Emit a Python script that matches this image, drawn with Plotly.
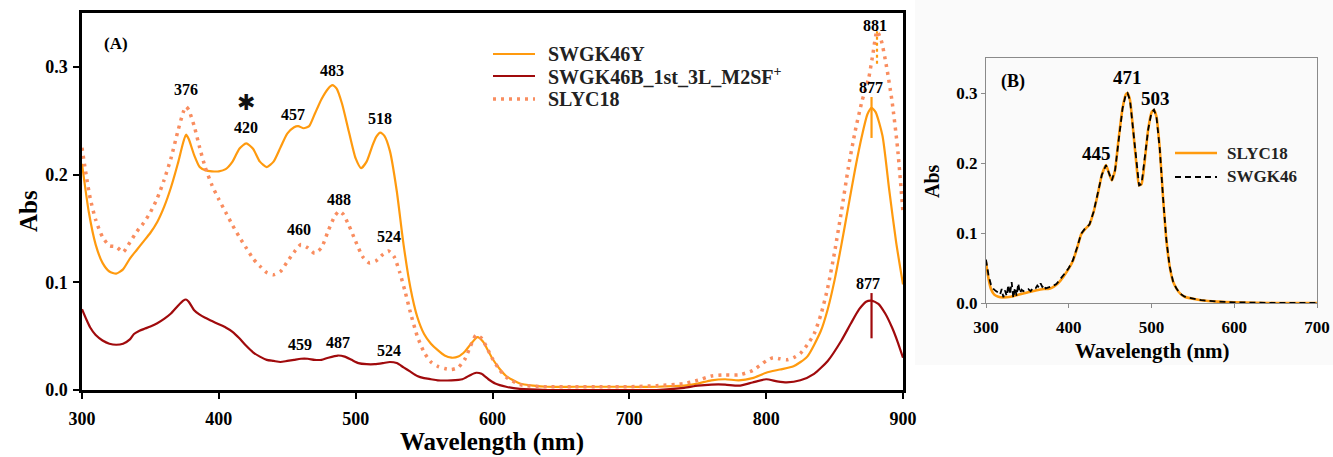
import numpy as np
import plotly.graph_objects as go

# ---------------- Panel (A): absorption spectra 300-900 nm ----------------
wl_y = [300, 305, 310, 315, 320, 325, 330, 335, 340, 345, 350, 355, 360, 365, 370, 374, 376, 378,
        382, 386, 390, 395, 400, 405, 410, 415, 420, 425, 430, 435, 440, 445, 450, 455, 458, 462,
        466, 470, 475, 480, 483, 486, 490, 495, 500, 504, 508, 512, 515, 518, 521, 525, 530, 535,
        540, 545, 550, 555, 560, 565, 570, 575, 580, 585, 589, 593, 597, 600, 605, 610, 620, 630,
        640, 660, 680, 700, 720, 740, 750, 760, 770, 780, 790, 800, 810, 820, 830, 840, 845, 850,
        855, 860, 865, 870, 874, 877, 880, 885, 890, 895, 900]
abs_swgk46y = [0.210, 0.165, 0.135, 0.118, 0.110, 0.108, 0.112, 0.122, 0.130, 0.138, 0.146, 0.156,
               0.170, 0.188, 0.210, 0.230, 0.237, 0.233, 0.218, 0.207, 0.204, 0.203, 0.203, 0.205,
               0.212, 0.224, 0.229, 0.224, 0.212, 0.207, 0.212, 0.225, 0.238, 0.244, 0.245, 0.243,
               0.245, 0.256, 0.270, 0.280, 0.283, 0.280, 0.266, 0.240, 0.215, 0.206, 0.212, 0.226,
               0.235, 0.239, 0.236, 0.222, 0.185, 0.135, 0.095, 0.068, 0.052, 0.043, 0.037, 0.032,
               0.030, 0.031, 0.036, 0.044, 0.049, 0.045, 0.036, 0.029, 0.020, 0.013, 0.006, 0.004,
               0.003, 0.003, 0.003, 0.003, 0.003, 0.004, 0.006, 0.009, 0.010, 0.009, 0.011, 0.016,
               0.019, 0.022, 0.031, 0.055, 0.075, 0.102, 0.135, 0.170, 0.205, 0.236, 0.256, 0.262,
               0.258, 0.236, 0.185, 0.137, 0.098]

wl_b = [300, 303, 306, 310, 315, 320, 325, 330, 335, 338, 342, 346, 350, 355, 360, 365, 370, 374,
        376, 378, 382, 386, 390, 395, 400, 405, 410, 415, 420, 425, 430, 435, 440, 445, 450, 455,
        460, 465, 470, 475, 480, 487, 492, 497, 502, 508, 514, 520, 525, 530, 535, 540, 545, 550,
        555, 560, 570, 578, 584, 588, 592, 597, 602, 610, 620, 640, 660, 700, 720, 740, 750, 760,
        770, 780, 790, 800, 808, 815, 825, 835, 845, 855, 862, 868, 873, 877, 882, 887, 892, 896,
        900]
abs_swgk46b = [0.075, 0.066, 0.058, 0.051, 0.046, 0.043, 0.042, 0.043, 0.047, 0.052, 0.055, 0.057,
               0.059, 0.062, 0.066, 0.071, 0.078, 0.083, 0.084, 0.082, 0.074, 0.070, 0.067, 0.064,
               0.061, 0.058, 0.054, 0.048, 0.041, 0.035, 0.031, 0.028, 0.027, 0.026, 0.027, 0.028,
               0.029, 0.029, 0.028, 0.028, 0.030, 0.032, 0.031, 0.028, 0.025, 0.024, 0.024, 0.025,
               0.026, 0.025, 0.021, 0.017, 0.013, 0.011, 0.010, 0.009, 0.009, 0.010, 0.014, 0.016,
               0.015, 0.010, 0.006, 0.003, 0.001, 0.000, 0.000, 0.000, 0.000, 0.002, 0.004, 0.005,
               0.005, 0.004, 0.007, 0.010, 0.008, 0.007, 0.009, 0.015, 0.027, 0.046, 0.062, 0.075,
               0.082, 0.083, 0.080, 0.071, 0.058, 0.045, 0.030]

wl_s = [300, 303, 306, 310, 315, 320, 325, 330, 335, 340, 345, 350, 355, 360, 365, 370, 374, 376,
        378, 382, 386, 390, 395, 400, 405, 410, 415, 420, 425, 430, 435, 440, 445, 450, 455, 460,
        465, 470, 475, 480, 485, 488, 491, 495, 500, 505, 510, 515, 520, 524, 528, 532, 536, 540,
        545, 550, 555, 560, 565, 570, 575, 580, 584, 588, 592, 596, 600, 605, 610, 620, 640, 660,
        680, 700, 720, 740, 750, 760, 770, 780, 790, 800, 805, 810, 815, 820, 825, 830, 835, 840,
        845, 850, 855, 860, 865, 870, 875, 878, 881, 884, 888, 892, 896, 900]
abs_slyc18 = [0.225, 0.200, 0.178, 0.158, 0.142, 0.134, 0.133, 0.128, 0.137, 0.147, 0.155, 0.165,
              0.178, 0.195, 0.215, 0.240, 0.258, 0.263, 0.260, 0.245, 0.225, 0.207, 0.190, 0.177,
              0.165, 0.153, 0.142, 0.132, 0.122, 0.115, 0.109, 0.107, 0.110, 0.119, 0.128, 0.135,
              0.132, 0.127, 0.132, 0.148, 0.162, 0.166, 0.163, 0.153, 0.138, 0.124, 0.118, 0.120,
              0.126, 0.129, 0.124, 0.110, 0.092, 0.072, 0.050, 0.035, 0.026, 0.022, 0.020, 0.019,
              0.021, 0.029, 0.041, 0.051, 0.048, 0.039, 0.029, 0.019, 0.012, 0.005, 0.003, 0.003,
              0.003, 0.003, 0.004, 0.006, 0.009, 0.013, 0.014, 0.014, 0.018, 0.027, 0.030, 0.029,
              0.028, 0.030, 0.034, 0.042, 0.052, 0.070, 0.095, 0.128, 0.166, 0.206, 0.240, 0.268,
              0.290, 0.312, 0.333, 0.325, 0.300, 0.268, 0.225, 0.165]

# Peak labels: (series, wavelength, text, vertical px offset above curve, horizontal px offset)
peaks_a = [
    ("s", 376, "376", 17, 0), ("y", 420, "420", 16, 0), ("y", 457, "457", 12, -4),
    ("y", 483, "483", 15, 0), ("y", 518, "518", 14, 0), ("s", 488, "488", 12, 0),
    ("s", 460, "460", 15, -2), ("s", 524, "524", 15, 0), ("b", 459, "459", 14, 0),
    ("b", 487, "487", 13, 0), ("b", 524, "524", 12, 0), ("s", 881, "881", 6, -2),
    ("y", 877, "877", 20, -1), ("b", 877, "877", 17, -4),
]
# Vertical peak ticks: (series, wavelength, below, above)
peak_ticks = [("y", 877, 0.028, 0.010), ("b", 877, 0.035, 0.007), ("s", 881, 0.030, 0.0)]

# ---------------- Panel (B): carotenoid spectra 300-700 nm ----------------
wl_c = [300, 303, 306, 310, 315, 320, 330, 340, 350, 360, 370, 375, 380, 385, 390, 395, 400, 405,
        410, 415, 420, 425, 430, 435, 440, 445, 449, 452, 456, 460, 465, 469, 471, 474, 478, 482,
        485, 488, 492, 496, 500, 503, 506, 510, 514, 518, 522, 526, 530, 535, 540, 550, 560, 580,
        600, 650, 700]
abs_c_slyc18 = [0.058, 0.035, 0.020, 0.012, 0.009, 0.008, 0.009, 0.012, 0.015, 0.018, 0.020, 0.020,
                0.022, 0.026, 0.032, 0.040, 0.049, 0.060, 0.078, 0.098, 0.106, 0.112, 0.130, 0.155,
                0.183, 0.197, 0.184, 0.175, 0.190, 0.232, 0.278, 0.298, 0.300, 0.290, 0.245, 0.195,
                0.168, 0.170, 0.205, 0.248, 0.272, 0.276, 0.266, 0.220, 0.150, 0.090, 0.052, 0.031,
                0.021, 0.013, 0.009, 0.006, 0.004, 0.002, 0.001, 0.000, 0.000]

wl_k = [300, 303, 306, 309, 312, 315, 317, 319, 321, 323, 325, 327, 329, 331, 333, 335, 337, 339,
        341, 343, 345, 348, 351, 354, 357, 360, 362, 364, 366, 368, 370, 372, 375, 380, 385, 390,
        395, 400, 405, 410, 415, 420, 425, 430, 435, 440, 445, 449, 452, 456, 460, 465, 469, 471,
        474, 478, 482, 485, 488, 492, 496, 500, 503, 506, 510, 514, 518, 522, 526, 530, 535, 540,
        550, 560, 580, 600, 650, 700]
abs_k_swgk46 = [0.062, 0.040, 0.026, 0.020, 0.017, 0.015, 0.012, 0.020, 0.008, 0.018, 0.010, 0.026,
                0.012, 0.030, 0.007, 0.022, 0.010, 0.028, 0.014, 0.019, 0.017, 0.018, 0.020, 0.017,
                0.022, 0.021, 0.025, 0.022, 0.028, 0.023, 0.026, 0.021, 0.022, 0.024, 0.027, 0.034,
                0.042, 0.050, 0.061, 0.079, 0.099, 0.107, 0.112, 0.130, 0.155, 0.183, 0.197, 0.184,
                0.175, 0.190, 0.232, 0.278, 0.298, 0.300, 0.290, 0.245, 0.195, 0.168, 0.170, 0.205,
                0.248, 0.272, 0.276, 0.266, 0.220, 0.150, 0.090, 0.052, 0.031, 0.021, 0.013, 0.009,
                0.006, 0.004, 0.002, 0.001, 0.000, 0.000]

peaks_c = [(445, "445", 12, -9), (471, "471", 15, 0), (503, "503", 11, 2)]

# ---------------- styling ----------------
W, H = 1333, 457
SERIF = "Liberation Serif"
ORANGE = "#FF9A0E"
DARKRED = "#A00A0C"
SALMON = "#F98D5F"
BLACK = "#000000"
DOT = "3px,5px"

series_a = {
    "y": (wl_y, abs_swgk46y, ORANGE),
    "b": (wl_b, abs_swgk46b, DARKRED),
    "s": (wl_s, abs_slyc18, SALMON),
}

line_a = {
    "y": dict(color=ORANGE, width=2.2),
    "b": dict(color=DARKRED, width=2.2),
    "s": dict(color=SALMON, width=3.5, dash=DOT),
}

fig = go.Figure()

fig.add_trace(go.Scatter(x=wl_y, y=abs_swgk46y, mode="lines", name="SWGK46Y",
                         line=dict(**line_a["y"], shape="spline", smoothing=0.6),
                         xaxis="x", yaxis="y"))
fig.add_trace(go.Scatter(x=wl_b, y=abs_swgk46b, mode="lines", name="SWGK46B_1st_3L_M2SF<sup>+</sup>",
                         line=dict(**line_a["b"], shape="spline", smoothing=0.6),
                         xaxis="x", yaxis="y"))
fig.add_trace(go.Scatter(x=wl_s, y=abs_slyc18, mode="lines", name="SLYC18",
                         line=dict(**line_a["s"], shape="spline", smoothing=0.6),
                         xaxis="x", yaxis="y"))

line_c = dict(color=ORANGE, width=2.6)
line_k = dict(color=BLACK, width=1.8, dash="6px,4px")
fig.add_trace(go.Scatter(x=wl_c, y=abs_c_slyc18, mode="lines", name="SLYC18",
                         line=dict(**line_c, shape="spline", smoothing=0.5),
                         xaxis="x2", yaxis="y2"))
fig.add_trace(go.Scatter(x=wl_k, y=abs_k_swgk46, mode="lines", name="SWGK46",
                         line=line_k, xaxis="x2", yaxis="y2"))

annotations = []
num_font = dict(family=SERIF, size=16, color="black", weight="bold")
for key, wl, text, dy, dx in peaks_a:
    xs, ys, _ = series_a[key]
    yv = float(np.interp(wl, xs, ys))
    annotations.append(dict(x=wl, y=yv, xref="x", yref="y", text=text, showarrow=False,
                            xanchor="center", yanchor="middle", yshift=dy, xshift=dx, font=num_font))

# asterisk above the 420 nm band
yv420 = float(np.interp(420, wl_y, abs_swgk46y))
annotations.append(dict(x=420, y=yv420, xref="x", yref="y", text="✱", showarrow=False,
                        xanchor="center", yanchor="middle", yshift=41,
                        font=dict(family="DejaVu Sans", size=22, color="#111")))
annotations.append(dict(x=325, y=0.322, xref="x", yref="y", text="(A)", showarrow=False,
                        xanchor="center", yanchor="middle",
                        font=dict(family=SERIF, size=17, color="black", weight="bold")))

for wl, text, dy, dx in peaks_c:
    yv = float(np.interp(wl, wl_c, abs_c_slyc18))
    annotations.append(dict(x=wl, y=yv, xref="x2", yref="y2", text=text, showarrow=False,
                            xanchor="center", yanchor="middle", yshift=dy, xshift=dx,
                            font=dict(family=SERIF, size=19, color="black", weight="bold")))
annotations.append(dict(x=333, y=0.316, xref="x2", yref="y2", text="(B)", showarrow=False,
                        xanchor="center", yanchor="middle",
                        font=dict(family=SERIF, size=18, color="black", weight="bold")))

# axis titles
annotations += [
    dict(x=28 / W, y=1 - 211 / H, xref="paper", yref="paper", text="Abs", textangle=-90,
         xanchor="center", yanchor="middle", showarrow=False,
         font=dict(family=SERIF, size=25, color="black", weight="bold")),
    dict(x=492 / W, y=1 - 442 / H, xref="paper", yref="paper", text="Wavelength (nm)",
         xanchor="center", yanchor="middle", showarrow=False,
         font=dict(family=SERIF, size=25, color="black", weight="bold")),
    dict(x=932 / W, y=1 - 181 / H, xref="paper", yref="paper", text="Abs", textangle=-90,
         xanchor="center", yanchor="middle", showarrow=False,
         font=dict(family=SERIF, size=20, color="black", weight="bold")),
    dict(x=1152 / W, y=1 - 351 / H, xref="paper", yref="paper", text="Wavelength (nm)",
         xanchor="center", yanchor="middle", showarrow=False,
         font=dict(family=SERIF, size=21, color="black", weight="bold")),
]

shapes = [
    # light panel background behind (B)
    dict(type="rect", xref="paper", yref="paper", x0=915 / W, x1=1.0, y0=1 - 365 / H, y1=1.0,
         fillcolor="#FAFAFA", line=dict(width=0), layer="below"),
]
for key, wl, below, above in peak_ticks:
    xs, ys, col = series_a[key]
    yv = float(np.interp(wl, xs, ys))
    shapes.append(dict(type="line", xref="x", yref="y", x0=wl, x1=wl, y0=yv - below, y1=yv + above,
                       line=dict(color=ORANGE if key == "s" else col, width=2.2,
                                 dash="dot" if key == "s" else "solid")))

# legend keys: sample line + label, laid out in pixel rows
legend_a = [("y", "SWGK46Y", 54), ("b", "SWGK46B_1st_3L_M2SF<sup>+</sup>", 76), ("s", "SLYC18", 99)]
for key, label, row in legend_a:
    shapes.append(dict(type="line", xref="paper", yref="paper", x0=493 / W, x1=535 / W,
                       y0=1 - row / H, y1=1 - row / H, line=line_a[key]))
    annotations.append(dict(x=546 / W, y=1 - row / H, xref="paper", yref="paper", text=label,
                            xanchor="left", yanchor="middle", showarrow=False,
                            font=dict(family=SERIF, size=20, color="#222", weight="bold")))

legend_b = [(line_c, "SLYC18", 153), (line_k, "SWGK46", 177)]
for style, label, row in legend_b:
    shapes.append(dict(type="line", xref="paper", yref="paper", x0=1175 / W, x1=1217 / W,
                       y0=1 - row / H, y1=1 - row / H, line=style))
    annotations.append(dict(x=1225 / W, y=1 - row / H, xref="paper", yref="paper", text=label,
                            xanchor="left", yanchor="middle", showarrow=False,
                            font=dict(family=SERIF, size=17, color="#222", weight="bold")))

tick_a = dict(family=SERIF, size=18, color="black", weight="bold")
tick_b = dict(family=SERIF, size=17, color="black", weight="bold")

fig.update_layout(
    width=W, height=H,
    margin=dict(l=0, r=0, t=0, b=0),
    paper_bgcolor="white", plot_bgcolor="rgba(0,0,0,0)",
    showlegend=False,
    xaxis=dict(domain=[82 / W, 903 / W], range=[300, 900], tickvals=[300, 400, 500, 600, 700, 800, 900],
               showline=True, linecolor="black", linewidth=2.5, mirror=True, ticks="outside",
               ticklen=6, tickwidth=2, tickcolor="black", showgrid=False, zeroline=False,
               tickfont=tick_a, anchor="y", automargin=False, ticklabelstandoff=5),
    yaxis=dict(domain=[1 - 390 / H, 1 - 13 / H], range=[0, 0.35], tickvals=[0, 0.1, 0.2, 0.3],
               tickformat=".1f", showline=True, linecolor="black", linewidth=2.5, mirror=True,
               ticks="outside", ticklen=6, tickwidth=2, tickcolor="black", showgrid=False,
               zeroline=False, tickfont=tick_a, anchor="x", automargin=False, ticklabelstandoff=2),
    xaxis2=dict(domain=[986 / W, 1317 / W], range=[300, 700], tickvals=[300, 400, 500, 600, 700],
                showline=True, linecolor="#8a8a8a", linewidth=1.2, mirror=True, ticks="outside",
                ticklen=4, tickwidth=1, tickcolor="#8a8a8a", showgrid=False, zeroline=False,
                tickfont=tick_b, anchor="y2", automargin=False, ticklabelstandoff=4),
    yaxis2=dict(domain=[1 - 303 / H, 1 - 58 / H], range=[0, 0.35], tickvals=[0, 0.1, 0.2, 0.3],
                tickformat=".1f", showline=True, linecolor="#8a8a8a", linewidth=1.2, mirror=True,
                ticks="outside", ticklen=4, tickwidth=1, tickcolor="#8a8a8a", showgrid=False,
                zeroline=False, tickfont=tick_b, anchor="x2", automargin=False),
    annotations=annotations,
    shapes=shapes,
)

fig.write_html("out.html")
